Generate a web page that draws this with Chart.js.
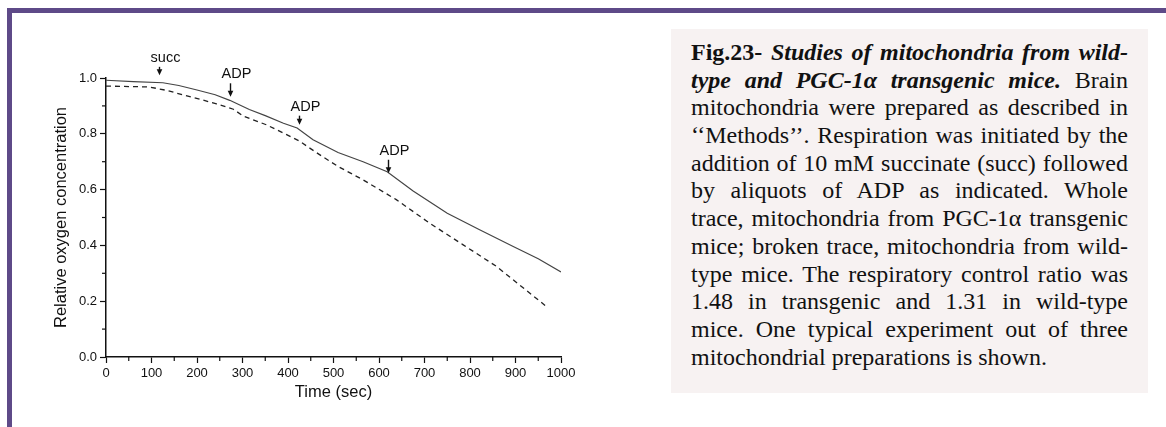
<!DOCTYPE html>
<html>
<head>
<meta charset="utf-8">
<script src="https://cdn.jsdelivr.net/npm/chart.js@4.4.1/dist/chart.umd.min.js"></script>
<style>
  html, body { margin: 0; padding: 0; background: #fff; }
  body { width: 1166px; height: 427px; position: relative; overflow: hidden; }
  #frame {
    position: absolute; left: 7px; top: 8px; right: 0; bottom: 0;
    border-top: 5px solid #5e4a88; border-left: 5px solid #5e4a88;
  }
  #chartBox { position: absolute; left: 0; top: 0; width: 640px; height: 427px; }
  #caption {
    position: absolute; left: 671px; top: 29px; width: 477px; height: 364px;
    box-sizing: border-box; padding: 10px 20px 0 20px;
    background: #f7f2f2; color: #111;
    font-family: "Liberation Serif", "Times New Roman", serif; font-size: 24px;
  }
  #caption div { line-height: 27.7px; height: 27.7px; white-space: nowrap; text-align: justify; text-align-last: justify; }
  #caption div.last { text-align-last: left; }
</style>
</head>
<body>
<div id="frame"></div>
<div id="chartBox"><canvas id="tempChart" width="640" height="427"></canvas></div>
<div id="caption">
  <div><b>Fig.23-</b> <b><i>Studies of mitochondria from wild-</i></b></div>
  <div><b><i>type and PGC-1α transgenic mice.</i></b> Brain</div>
  <div>mitochondria were prepared as described in</div>
  <div>‘‘Methods’’. Respiration was initiated by the</div>
  <div>addition of 10 mM succinate (succ) followed</div>
  <div>by aliquots of ADP as indicated. Whole</div>
  <div>trace, mitochondria from PGC-1α transgenic</div>
  <div>mice; broken trace, mitochondria from wild-</div>
  <div>type mice. The respiratory control ratio was</div>
  <div>1.48 in transgenic and 1.31 in wild-type</div>
  <div>mice. One typical experiment out of three</div>
  <div class="last">mitochondrial preparations is shown.</div>
</div>
<script>
// whole trace: PGC-1a transgenic mice
const tgTime  = [0, 60, 125, 160, 200, 240, 272, 315, 350, 390, 420, 455, 510, 565, 618, 675, 750, 820, 895, 950, 1000];
const tgValue = [0.992, 0.987, 0.983, 0.973, 0.957, 0.940, 0.920, 0.887, 0.865, 0.838, 0.821, 0.779, 0.733, 0.700, 0.664, 0.595, 0.515, 0.457, 0.396, 0.352, 0.305];

// broken trace: wild-type mice
const wtTime  = [0, 95, 135, 170, 207, 243, 280, 302, 353, 397, 426, 463, 510, 565, 638, 711, 785, 858, 965];
const wtValue = [0.971, 0.968, 0.955, 0.939, 0.924, 0.907, 0.888, 0.863, 0.832, 0.797, 0.773, 0.732, 0.683, 0.635, 0.564, 0.480, 0.402, 0.325, 0.185];

// additions marked by arrows
const arrowTime  = [117, 272, 425, 620];
const arrowLabel = ['succ', 'ADP', 'ADP', 'ADP'];
const arrowTop   = [1.040, 0.981, 0.865, 0.707];
const arrowTip   = [1.010, 0.933, 0.832, 0.659];

// minor ticks (between the labelled ones)
const xMinor = [50, 150, 250, 350, 450, 550, 650, 750, 850, 950];
const yMinor = [0.1, 0.3, 0.5, 0.7, 0.9];

const INK = '#111';
const SANS = '"Liberation Sans", Arial, sans-serif';

const toPoints = (ts, vs) => ts.map((t, i) => ({ x: t, y: vs[i] }));

const extras = {
  id: 'extras',
  afterDraw(chart) {
    const { ctx, scales: { x, y } } = chart;
    ctx.save();
    ctx.strokeStyle = INK;
    ctx.lineWidth = 1.2;
    xMinor.forEach(t => {
      const px = x.getPixelForValue(t);
      ctx.beginPath(); ctx.moveTo(px, y.bottom); ctx.lineTo(px, y.bottom + 4); ctx.stroke();
    });
    yMinor.forEach(v => {
      const py = y.getPixelForValue(v);
      ctx.beginPath(); ctx.moveTo(x.left, py); ctx.lineTo(x.left - 4, py); ctx.stroke();
    });

    ctx.fillStyle = INK;
    ctx.font = '14.5px ' + SANS;
    ctx.textAlign = 'center';
    ctx.textBaseline = 'alphabetic';
    ctx.lineWidth = 1.4;
    arrowTime.forEach((t, i) => {
      const px = Math.round(x.getPixelForValue(t)) + 0.5;
      const top = y.getPixelForValue(arrowTop[i]);
      const tip = y.getPixelForValue(arrowTip[i]);
      ctx.beginPath(); ctx.moveTo(px, top); ctx.lineTo(px, tip - 4); ctx.stroke();
      ctx.beginPath();
      ctx.moveTo(px - 2.8, tip - 6); ctx.lineTo(px + 2.8, tip - 6); ctx.lineTo(px, tip);
      ctx.closePath(); ctx.fill();
      ctx.fillText(arrowLabel[i], px + 6, top - 5);
    });
    ctx.restore();
  }
};

const canvas = document.getElementById('tempChart');
new Chart(canvas.getContext('2d'), {
  type: 'line',
  data: {
    datasets: [
      {
        label: 'PGC-1α transgenic',
        data: toPoints(tgTime, tgValue),
        borderColor: '#444',
        borderWidth: 1.2,
        pointRadius: 0,
        tension: 0
      },
      {
        label: 'wild-type',
        data: toPoints(wtTime, wtValue),
        borderColor: '#222',
        borderWidth: 1.3,
        borderDash: [5, 4],
        pointRadius: 0,
        tension: 0
      }
    ]
  },
  options: {
    responsive: false,
    animation: false,
    devicePixelRatio: 1,
    layout: { padding: { left: 0, top: 78, right: 79, bottom: 0 } },
    plugins: { legend: { display: false }, tooltip: { enabled: false } },
    scales: {
      x: {
        type: 'linear', min: 0, max: 1000,
        afterFit: s => { s.height = 70; },
        ticks: { stepSize: 100, autoSkip: false, maxRotation: 0, padding: 3, color: INK, font: { family: SANS, size: 13 }, callback: v => String(v) },
        grid: { drawOnChartArea: false, drawTicks: true, tickLength: 6, tickColor: INK, tickWidth: 1.2 },
        border: { display: true, color: INK, width: 1.5 },
        title: { display: true, text: 'Time (sec)', color: INK, font: { family: SANS, size: 16.5 }, padding: { top: 0, bottom: 25 } }
      },
      y: {
        min: 0, max: 1.0,
        afterFit: s => { s.width = 106; },
        ticks: { stepSize: 0.2, padding: 3, color: INK, font: { family: SANS, size: 13 }, callback: v => v.toFixed(1) },
        grid: { drawOnChartArea: false, drawTicks: true, tickLength: 6, tickColor: INK, tickWidth: 1.2 },
        border: { display: true, color: INK, width: 1.5 },
        title: { display: true, text: 'Relative oxygen concentration', color: INK, font: { family: SANS, size: 16.5 }, padding: { top: 52, bottom: 0 } }
      }
    }
  },
  plugins: [extras]
});
</script>
</body>
</html>
